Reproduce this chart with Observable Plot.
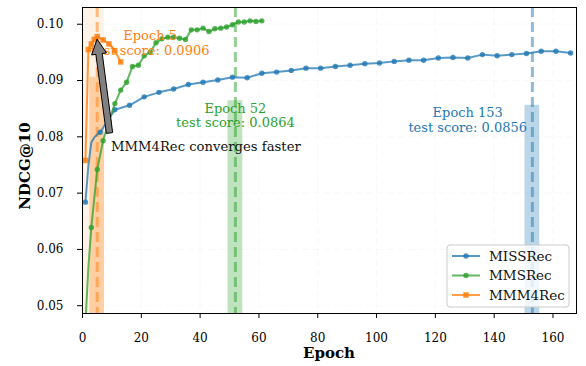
<!DOCTYPE html>
<html><head><meta charset="utf-8">
<script src="https://cdn.jsdelivr.net/npm/d3@7"></script>
<script src="https://cdn.jsdelivr.net/npm/@observablehq/plot@0.6"></script>
<style>
body{margin:0;background:#fff;}
#chart{position:relative;width:586px;height:366px;}
</style></head><body><div id="chart"></div>
<script>
// ---- data ----
const xTicks = [0, 20, 40, 60, 80, 100, 120, 140, 160];
const yTicks = [0.05, 0.06, 0.07, 0.08, 0.09, 0.10];
const seriesNames = ["MISSRec", "MMSRec", "MMM4Rec"];
const seriesColors = ["#1f77b4", "#2ca02c", "#ff7f0e"];

const missEpochs = [1,2,3,4,5,6,11,16,21,26,31,36,41,46,51,56,61,66,71,76,81,86,91,96,101,106,111,116,121,126,131,136,141,146,151,156,161,166];
const missValues = [0.0684,0.0749,0.0790,0.0799,0.0804,0.0808,0.0848,0.0856,0.0871,0.0879,0.0885,0.0893,0.0897,0.0901,0.0906,0.0905,0.0913,0.0915,0.0918,0.0922,0.0922,0.0925,0.0927,0.0930,0.0931,0.0934,0.0936,0.0936,0.0940,0.0941,0.0940,0.0946,0.0944,0.0946,0.0948,0.0952,0.0952,0.0949];

const mmsEpochs = [1,2,3,5,7,9,11,13,15,17,19,21,23,25,27,29,31,33,35,37,39,41,43,45,47,49,51,53,55,57,59,61];
const mmsValues = [0.0470,0.0568,0.0639,0.0742,0.0793,0.0828,0.0859,0.0883,0.0897,0.0925,0.0927,0.0944,0.0950,0.0967,0.0974,0.0977,0.0977,0.0975,0.0973,0.0990,0.0990,0.0993,0.0987,0.0992,0.0993,0.0995,0.0999,0.1004,0.1004,0.1006,0.1005,0.1006];

const m4Epochs = [1,2,3,4,5,7,9,11,13];
const m4Values = [0.0758,0.0955,0.0965,0.0973,0.0978,0.0972,0.0965,0.0953,0.0933];

const bestEpochs = [153, 52, 5];
const bestScores = [0.0856, 0.0864, 0.0906];
const noteText = "MMM4Rec converges faster";

// ---- tables ----
const mk = (eps, vals, s) => eps.map((e, i) => ({epoch: e, value: vals[i], series: s}));
const miss = mk(missEpochs, missValues, 0);
const mms = mk(mmsEpochs, mmsValues, 1);
const m4 = mk(m4Epochs, m4Values, 2);
const best = bestEpochs.map((e, i) => ({epoch: e, score: bestScores[i], series: i}));

// layout of annotations (epoch, value coordinates)
const noteX = [131, 52, 23];
const noteY1 = [0.08352, 0.08432, 0.09720];
const noteY2 = [0.08085, 0.08166, 0.09453];
const lines1 = best.map((d, i) => ({x: noteX[i], y: noteY1[i], t: `Epoch ${d.epoch}`, c: seriesColors[i]}));
const lines2 = best.map((d, i) => ({x: noteX[i], y: noteY2[i], t: `test score: ${d.score.toFixed(4)}`, c: seriesColors[i]}));

const FONT = "DejaVu Serif";
const yDomain = [0.04862, 0.10297];
const grid = {stroke: "#c0c0c0", strokeWidth: 1.2, strokeDasharray: "7,3.5"};

const chart = Plot.plot({
  width: 586, height: 366,
  marginLeft: 82, marginRight: 10, marginTop: 7, marginBottom: 53,
  style: {fontFamily: FONT, fontSize: "12px", background: "white", color: "black"},
  x: {domain: [0, 168], label: null},
  y: {domain: yDomain, label: null},
  marks: [
    Plot.gridX(xTicks, grid),
    Plot.gridY(yTicks, grid),
    // highlight of early convergence
    Plot.rect([best[2]], {x1: 0, x2: d => d.epoch + 2.5, y1: 0, y2: 1, fill: seriesColors[2], fillOpacity: 0.1, clip: true}),
    // best score bars
    Plot.rect(best, {x1: d => d.epoch - 2.5, x2: d => d.epoch + 2.5, y1: 0, y2: "score", fill: d => seriesColors[d.series], fillOpacity: 0.3, clip: true}),
    Plot.ruleX(best, {x: "epoch", stroke: d => seriesColors[d.series], strokeOpacity: 0.5, strokeWidth: 3, strokeDasharray: "10,5"}),
    // series
    Plot.line(miss, {x: "epoch", y: "value", stroke: seriesColors[0], strokeOpacity: 0.75, strokeWidth: 2, clip: true}),
    Plot.dot(miss.filter(d => (d.epoch - 1) % 5 === 0), {x: "epoch", y: "value", r: 2.7, fill: seriesColors[0], fillOpacity: 0.8, clip: true}),
    Plot.line(mms, {x: "epoch", y: "value", stroke: seriesColors[1], strokeOpacity: 0.75, strokeWidth: 2, clip: true}),
    Plot.dot(mms.filter(d => d.epoch % 2 === 1), {x: "epoch", y: "value", r: 2.7, fill: seriesColors[1], fillOpacity: 0.8, clip: true}),
    Plot.line(m4, {x: "epoch", y: "value", stroke: seriesColors[2], strokeOpacity: 0.8, strokeWidth: 2, clip: true}),
    Plot.dot(m4, {x: "epoch", y: "value", r: 3.1, symbol: "square", fill: seriesColors[2], fillOpacity: 0.85, clip: true}),
    // annotations
    Plot.text(lines1, {x: "x", y: "y", text: "t", fill: "c", fontSize: 13, lineAnchor: "bottom", textAnchor: "middle", fontFamily: FONT}),
    Plot.text(lines2, {x: "x", y: "y", text: "t", fill: "c", fontSize: 13, lineAnchor: "bottom", textAnchor: "middle", fontFamily: FONT}),
    Plot.text([noteText], {x: 9.7, y: 0.07748, text: d => d, fill: "#111", fontSize: 13.2, lineAnchor: "bottom", textAnchor: "start", fontFamily: FONT}),
    Plot.axisX({ticks: xTicks, tickSize: 5, tickPadding: 15, label: null, fontSize: 12}),
    Plot.axisY({ticks: yTicks, tickSize: 5, tickPadding: 14, tickFormat: ".2f", label: null, fontSize: 12}),
    Plot.frame({stroke: "black", strokeWidth: 1})
  ]
});

document.getElementById("chart").appendChild(chart);
const svg = d3.select(chart);
const X = chart.scale("x").apply, Y = chart.scale("y").apply;

// annotation arrow (from note to MMM4Rec peak)
(function() {
  const tail = [X(9.35), Y(0.08059)];
  const pk = [X(best[2].epoch), Y(m4Values[m4Epochs.indexOf(best[2].epoch)])];
  let dx = pk[0] - tail[0], dy = pk[1] - tail[1];
  const L = Math.hypot(dx, dy); const ux = dx / L, uy = dy / L;
  const tip = [pk[0] - ux * 3, pk[1] - uy * 3];
  const nx = -uy, ny = ux;
  const w = 3.2, hw = 7.5, hl = 15;
  const base = [tip[0] - ux * hl, tip[1] - uy * hl];
  const pts = [
    [tail[0] + nx * w, tail[1] + ny * w],
    [base[0] + nx * w, base[1] + ny * w],
    [base[0] + nx * hw, base[1] + ny * hw],
    tip,
    [base[0] - nx * hw, base[1] - ny * hw],
    [base[0] - nx * w, base[1] - ny * w],
    [tail[0] - nx * w, tail[1] - ny * w]
  ];
  svg.append("polygon").attr("points", pts.map(p => p.join(",")).join(" "))
    .attr("fill", "#808080").attr("stroke", "#000").attr("stroke-width", 1).attr("stroke-linejoin", "miter");
})();

// axis labels
svg.append("text").attr("x", 329).attr("y", 358).attr("text-anchor", "middle")
  .attr("font-family", FONT).attr("font-weight", "bold").attr("font-size", 15).text("Epoch");
svg.append("text").attr("transform", "translate(30,166) rotate(-90)").attr("text-anchor", "middle")
  .attr("font-family", FONT).attr("font-weight", "bold").attr("font-size", 15).text("NDCG@10");

// legend
(function() {
  const g = svg.append("g");
  g.append("rect").attr("x", 447).attr("y", 245).attr("width", 122).attr("height", 62).attr("rx", 3)
    .attr("fill", "white").attr("fill-opacity", 0.8).attr("stroke", "#cccccc");
  seriesNames.forEach((name, i) => {
    const cy = 256 + i * 19.5;
    g.append("line").attr("x1", 452).attr("x2", 480).attr("y1", cy).attr("y2", cy)
      .attr("stroke", seriesColors[i]).attr("stroke-opacity", 0.75).attr("stroke-width", 2);
    if (i === 2) g.append("rect").attr("x", 466 - 2.75).attr("y", cy - 2.75).attr("width", 5.5).attr("height", 5.5).attr("fill", seriesColors[i]).attr("fill-opacity", 0.85);
    else g.append("circle").attr("cx", 466).attr("cy", cy).attr("r", 2.7).attr("fill", seriesColors[i]).attr("fill-opacity", 0.8);
    g.append("text").attr("x", 489).attr("y", cy + 4.6).attr("text-anchor", "start")
      .attr("font-family", FONT).attr("font-size", 13.5).attr("fill", "#111").text(name);
  });
})();
</script></body></html>
